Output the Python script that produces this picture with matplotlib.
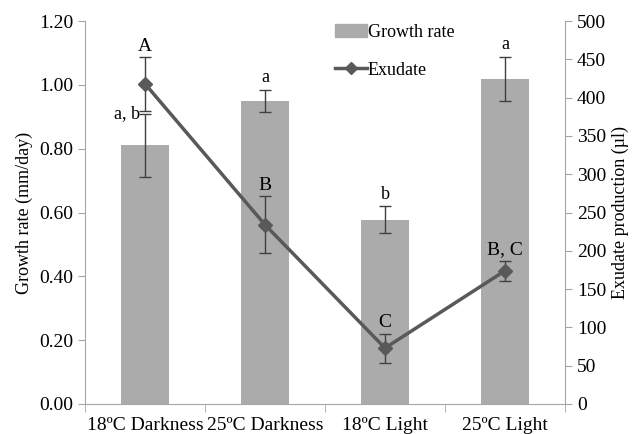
import matplotlib
matplotlib.use("Agg")
import matplotlib.pyplot as plt
import numpy as np
from matplotlib.lines import Line2D
from matplotlib.patches import Patch

categories = ["18ºC Darkness", "25ºC Darkness", "18ºC Light", "25ºC Light"]
growth = [0.81, 0.95, 0.577, 1.018]
growth_err = [0.10, 0.035, 0.042, 0.07]
growth_labels = ["a, b", "a", "b", "a"]
exudate = [418, 234, 73, 174]
exudate_err = [35, 37, 19, 13]
exudate_labels = ["A", "B", "C", "B, C"]

plt.rcParams['font.family'] = ['Liberation Serif', 'DejaVu Serif']
FS = 14
axis_col = "#a6a6a6"
bar_col = "#ababab"
line_col = "#595959"

fig = plt.figure(figsize=(6.36, 4.34), dpi=100)
ax = fig.add_axes([85/636, 30/434, 480/636, 383/434])
ax2 = ax.twinx()

x = np.arange(len(categories))
ax.bar(x, growth, width=0.4, color=bar_col, zorder=2)
ax.errorbar(x, growth, yerr=growth_err, fmt='none', ecolor='#404040', elinewidth=1, capsize=4, capthick=1, zorder=3)
ax.set_ylim(0, 1.2)
ax.set_xlim(-0.5, 3.5)
ax.set_yticks(np.arange(0, 1.21, 0.2))
ax.set_yticklabels([f"{v:.2f}" for v in np.arange(0, 1.21, 0.2)], fontsize=FS)
ax.set_xticks(x)
ax.set_xticklabels(categories, fontsize=FS)
ax.set_xticks(np.arange(-0.5, 3.6, 1), minor=True)
ax.tick_params(axis='x', which='major', length=0, pad=9)
ax.tick_params(axis='x', which='minor', length=6, color=axis_col, direction='out')
ax.tick_params(axis='y', length=5, color=axis_col, direction='out')
ax.set_ylabel("Growth rate (mm/day)", fontsize=FS-1)

for i in range(len(categories)):
    top = growth[i] + growth_err[i]
    if i == 0:
        ax.text(x[i] - 0.04, top, growth_labels[i], ha='right', va='center', fontsize=FS-1)
    else:
        ax.text(x[i], top + 0.012, growth_labels[i], ha='center', va='bottom', fontsize=FS-1)

ax2.plot(x, exudate, color=line_col, lw=2.5, marker='D', markersize=7.5, zorder=4)
ax2.errorbar(x, exudate, yerr=exudate_err, fmt='none', ecolor='#404040', elinewidth=1, capsize=4, capthick=1, zorder=3)
ax2.set_ylim(0, 500)
ax2.set_yticks(np.arange(0, 501, 50))
ax2.set_yticklabels([str(v) for v in range(0, 501, 50)], fontsize=FS)
ax2.tick_params(axis='y', length=5, color=axis_col, direction='out')
ax2.set_ylabel("Exudate production (µl)", fontsize=FS-1)

for i in range(len(categories)):
    top = exudate[i] + exudate_err[i]
    ax2.text(x[i], top + 3, exudate_labels[i], ha='center', va='bottom', fontsize=FS)

for a in (ax, ax2):
    a.spines['top'].set_visible(False)
    for s in ('left', 'right', 'bottom'):
        a.spines[s].set_color(axis_col)
ax.spines['right'].set_visible(False)
ax2.spines['left'].set_visible(False)
ax2.spines['bottom'].set_visible(False)

handles = [Patch(color=bar_col, label="Growth rate"),
           Line2D([0], [0], color=line_col, lw=2.5, marker='D', markersize=6, label="Exudate")]
leg = ax2.legend(handles=handles, loc='upper left', bbox_to_anchor=(0.487, 1.035), frameon=False,
                 fontsize=FS-1, handlelength=1.75, handletextpad=0.05, labelspacing=1.15)

fig.savefig("out.png", dpi=100)
